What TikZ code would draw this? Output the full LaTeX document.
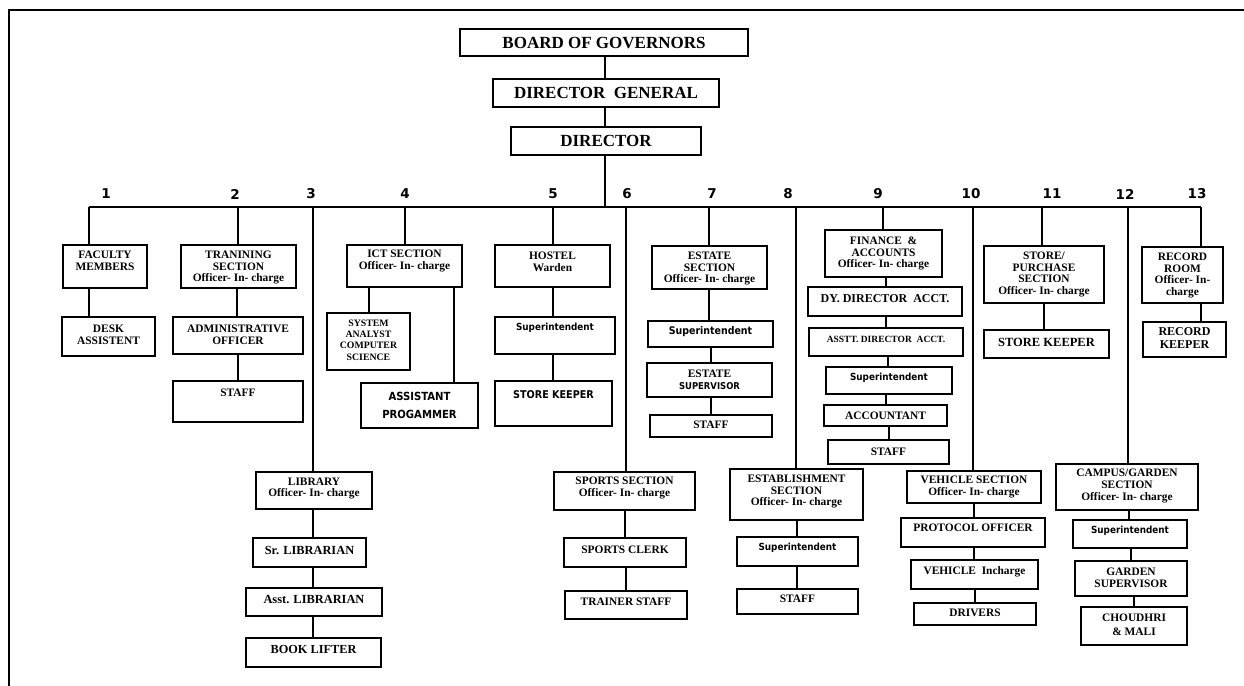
\documentclass[tikz,border=0pt]{standalone}
\usepackage{fontspec}
\setmainfont{Liberation Serif}
\newfontfamily\sansc{DejaVu Sans Condensed}
\newfontfamily\numf{DejaVu Sans}
\usetikzlibrary{fit}
\newcommand\fA{\fontsize{11.4}{11.7}\selectfont\bfseries}
\newcommand\fBig{\fontsize{17}{20}\selectfont\bfseries}
\newcommand\fSup{\sansc\fontsize{9.8}{11}\selectfont\bfseries}
\tikzset{
  box/.style={draw, line width=1.9pt, rectangle, inner sep=0pt},
  txt/.style={inner sep=0pt, align=center},
  conn/.style={line width=1.7pt},
  bus/.style={line width=1.5pt},
  numlbl/.style={inner sep=0pt, font=\numf\fontsize{13.5}{14}\selectfont\bfseries},
  frame/.style={line width=2.6pt}
}
% name, x1, y1, x2, y2, text-y, font, text
\newcommand\bx[8]{%
  \node[box, fit={(#2,#3) (#4,#5)}] (#1) {};
  \node[txt, font=#7] (#1-t) at ({(#2+#4)/2}, #6) {#8};}
\newcommand\vc[3]{\coordinate (vcx) at (#3,0); \draw[conn] (#1.south -| vcx) -- (#2.north -| vcx);}
\newcommand\br[2]{\draw[conn] (#1) -- (#2.north -| #1);}
\begin{document}
\begin{tikzpicture}[x=1pt, y=-1pt]
\useasboundingbox (0,0) rectangle (1244,685);
\fill[white] (0,0) rectangle (1244,685);
\coordinate (fbl) at (9,686);
\coordinate (ftl) at (9,10);
\coordinate (ftr) at (1245,10);
\draw[frame] (fbl) -- (ftl) -- (ftr);

% top
\bx{bog}{460}{29}{748}{56}{43}{\fBig}{BOARD OF GOVERNORS}
\bx{dg}{493}{79}{719}{107}{93}{\fBig}{DIRECTOR\ \ GENERAL}
\bx{dir}{511}{127}{701}{155}{141}{\fBig}{DIRECTOR}
\vc{bog}{dg}{605}
\vc{dg}{dir}{605}
\coordinate (dbus) at (605,207);
\draw[conn] (dir.south -| dbus) -- (dbus);

% bus
\coordinate (b1) at (89,207);
\coordinate (b2) at (238,207);
\coordinate (b3) at (313,207);
\coordinate (b4) at (405,207);
\coordinate (b5) at (553,207);
\coordinate (b6) at (626,207);
\coordinate (b7) at (709,207);
\coordinate (b8) at (796,207);
\coordinate (b9) at (883,207);
\coordinate (b10) at (973,207);
\coordinate (b11) at (1042,207);
\coordinate (b12) at (1128,207);
\coordinate (b13) at (1201,207);
\draw[bus] (b1) -- (b13);

% numbers
\node[numlbl] (n1) at (106,194) {1};
\node[numlbl] (n2) at (235,194) {2};
\node[numlbl] (n3) at (311,194) {3};
\node[numlbl] (n4) at (405,194) {4};
\node[numlbl] (n5) at (553,194) {5};
\node[numlbl] (n6) at (627,194) {6};
\node[numlbl] (n7) at (712,194) {7};
\node[numlbl] (n8) at (788,194) {8};
\node[numlbl] (n9) at (878,194) {9};
\node[numlbl] (n10) at (971,194) {10};
\node[numlbl] (n11) at (1052,194) {11};
\node[numlbl] (n12) at (1125,194) {12};
\node[numlbl] (n13) at (1197,194) {13};

% 1
\bx{fac}{63}{245}{147}{288}{261}{\fA}{FACULTY\\MEMBERS}
\bx{desk}{62}{317}{155}{356}{334.5}{\fA}{DESK\\ASSISTENT}
\br{b1}{fac}
\vc{fac}{desk}{89}

% 2
\bx{train}{181}{245}{296}{288}{267.5}{\fA}{TRANINING\\SECTION\\Officer- In- charge}
\bx{adm}{173}{317}{303}{354}{334.5}{\fA}{ADMINISTRATIVE\\OFFICER}
\bx{staffa}{173}{381}{303}{422}{392.5}{\fA}{STAFF}
\br{b2}{train}
\vc{train}{adm}{237}
\vc{adm}{staffa}{238}

% 3
\bx{lib}{256}{472}{372}{509}{488.5}{\fA}{LIBRARY\\Officer- In- charge}
\bx{srl}{253}{538}{366}{567}{550}{\fontsize{12.4}{13}\selectfont\bfseries}{Sr. LIBRARIAN}
\bx{asl}{246}{588}{382}{616}{599}{\fontsize{12.4}{13}\selectfont\bfseries}{Asst. LIBRARIAN}
\bx{bl}{246}{638}{381}{667}{649}{\fontsize{12.3}{13}\selectfont\bfseries}{BOOK LIFTER}
\br{b3}{lib}
\vc{lib}{srl}{313}
\vc{srl}{asl}{313}
\vc{asl}{bl}{313}

% 4
\bx{ict}{347}{245}{462}{287}{261}{\fA}{ICT SECTION\\Officer- In- charge}
\bx{sys}{327}{313}{410}{370}{340}{\fontsize{9.8}{11.3}\selectfont\bfseries}{SYSTEM\\ANALYST\\COMPUTER\\SCIENCE}
\bx{asp}{361}{383}{478}{428}{405}{\sansc\fontsize{11.2}{18}\selectfont\bfseries}{ASSISTANT\\PROGAMMER}
\br{b4}{ict}
\vc{ict}{sys}{369}
\vc{ict}{asp}{454}

% 5
\bx{hostel}{495}{245}{610}{287}{262}{\fA}{HOSTEL\\Warden}
\bx{hsup}{495}{317}{615}{354}{328}{\fSup}{Superintendent}
\bx{hsk}{495}{381}{612}{426}{395}{\sansc\fontsize{10.7}{12}\selectfont\bfseries}{STORE KEEPER}
\br{b5}{hostel}
\vc{hostel}{hsup}{553}
\vc{hsup}{hsk}{553}

% 6
\bx{sports}{554}{472}{695}{510}{488}{\fA}{SPORTS SECTION\\Officer- In- charge}
\bx{sc}{564}{538}{686}{567}{550}{\fA}{SPORTS CLERK}
\bx{ts}{565}{591}{687}{619}{602}{\fA}{TRAINER STAFF}
\br{b6}{sports}
\vc{sports}{sc}{625}
\vc{sc}{ts}{626}

% 7
\bx{estate}{652}{246}{767}{289}{268.5}{\fA}{ESTATE\\SECTION\\Officer- In- charge}
\bx{esup}{648}{321}{773}{347}{332}{\sansc\fontsize{10.5}{12}\selectfont\bfseries}{Superintendent}
\bx{esv}{647}{363}{772}{397}{380}{\fA}{ESTATE\\{\sansc\fontsize{9.4}{11}\selectfont\bfseries SUPERVISOR}}
\bx{estaff}{650}{415}{772}{437}{425}{\fA}{STAFF}
\br{b7}{estate}
\vc{estate}{esup}{709}
\vc{esup}{esv}{711}
\vc{esv}{estaff}{711}

% 8
\bx{est}{730}{469}{863}{520}{491.5}{\fA}{ESTABLISHMENT\\SECTION\\Officer- In- charge}
\bx{estsup}{737}{537}{858}{566}{548}{\fSup}{Superintendent}
\bx{eststaff}{737}{589}{858}{614}{599}{\fA}{STAFF}
\br{b8}{est}
\vc{est}{estsup}{797}
\vc{estsup}{eststaff}{797}

% 9
\bx{fin}{825}{230}{942}{277}{253.5}{\fA}{FINANCE \ \&\\ACCOUNTS\\Officer- In- charge}
\bx{dy}{808}{287}{962}{316}{299}{\fontsize{12}{13}\selectfont\bfseries}{DY. DIRECTOR\ \ ACCT.}
\bx{asst}{809}{328}{963}{356}{339}{\fontsize{9.5}{11}\selectfont\bfseries}{ASSTT. DIRECTOR\ \ ACCT.}
\bx{fsup}{826}{367}{952}{394}{378}{\fSup}{Superintendent}
\bx{acct}{824}{405}{947}{426}{416}{\fA}{ACCOUNTANT}
\bx{fstaff}{828}{440}{949}{464}{452}{\fA}{STAFF}
\br{b9}{fin}
\vc{fin}{dy}{886}
\vc{dy}{asst}{886}
\vc{asst}{fsup}{888}
\vc{fsup}{acct}{886}
\vc{acct}{fstaff}{889}

% 10
\bx{veh}{907}{471}{1041}{503}{487}{\fA}{VEHICLE SECTION\\Officer- In- charge}
\bx{po}{901}{518}{1045}{547}{528}{\fA}{PROTOCOL OFFICER}
\bx{vi}{911}{560}{1038}{589}{572}{\fA}{VEHICLE\ \ Incharge}
\bx{dr}{914}{603}{1036}{625}{613}{\fA}{DRIVERS}
\br{b10}{veh}
\vc{veh}{po}{974}
\vc{po}{vi}{974}
\vc{vi}{dr}{975}

% 11
\bx{store}{984}{246}{1104}{303}{274.5}{\fA}{STORE/\\PURCHASE\\SECTION\\Officer- In- charge}
\bx{ssk}{984}{330}{1109}{358}{342}{\fontsize{12.5}{13}\selectfont\bfseries}{STORE KEEPER}
\br{b11}{store}
\vc{store}{ssk}{1044}

% 12
\bx{camp}{1056}{464}{1198}{510}{486}{\fA}{CAMPUS/GARDEN\\SECTION\\Officer- In- charge}
\bx{csup}{1073}{520}{1187}{548}{531}{\fSup}{Superintendent}
\bx{gs}{1075}{561}{1187}{596}{577.5}{\fA}{GARDEN\\SUPERVISOR}
\bx{ch}{1081}{607}{1187}{645}{625}{\fontsize{11.4}{14}\selectfont\bfseries}{CHOUDHRI\\\& MALI}
\br{b12}{camp}
\vc{camp}{csup}{1129}
\vc{csup}{gs}{1131}
\vc{gs}{ch}{1134}

% 13
\bx{rec}{1142}{247}{1223}{303}{275.5}{\fA}{RECORD\\ROOM\\Officer- In-\\charge}
\bx{rk}{1143}{322}{1226}{357}{338.5}{\fontsize{12}{13}\selectfont\bfseries}{RECORD\\KEEPER}
\br{b13}{rec}
\vc{rec}{rk}{1201}
\end{tikzpicture}
\end{document}
